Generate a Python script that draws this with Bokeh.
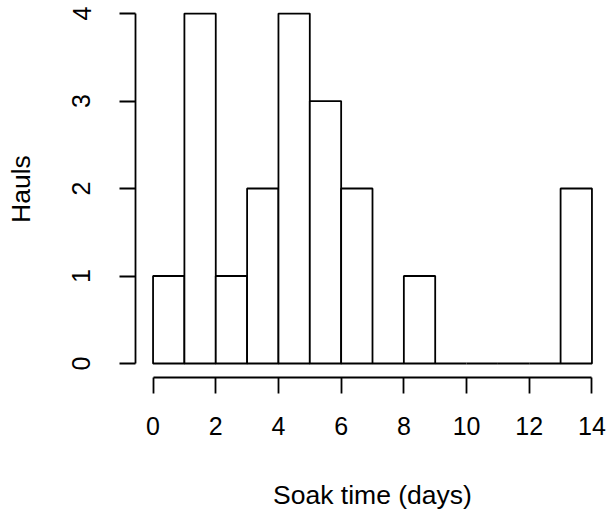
from bokeh.plotting import figure
from bokeh.models import Range1d, FixedTicker
from bokeh.embed import file_html
from bokeh.resources import INLINE

left_edges = [0, 1, 2, 3, 4, 5, 6, 7, 8, 9, 10, 11, 12, 13]
right_edges = [1, 2, 3, 4, 5, 6, 7, 8, 9, 10, 11, 12, 13, 14]
counts = [1, 4, 1, 2, 4, 3, 2, 0, 1, 0, 0, 0, 0, 2]
x_ticks = [0, 2, 4, 6, 8, 10, 12, 14]
y_ticks = [0, 1, 2, 3, 4]

FONT = "Liberation Sans"

p = figure(width=610, height=514, frame_width=474, frame_height=377,
           output_backend="svg", toolbar_location=None,
           x_range=Range1d(-0.56, 14.56), y_range=Range1d(-0.16, 4.149),
           min_border_left=135, min_border_right=1, min_border_top=0, min_border_bottom=137)
p.outline_line_color = None
p.xgrid.visible = False
p.ygrid.visible = False
p.background_fill_color = "white"
p.border_fill_color = "white"

p.quad(left=left_edges, right=right_edges, bottom=0, top=counts,
       fill_color="white", line_color="black", line_width=1.8)

for ax, ticks, hi in ((p.xaxis[0], x_ticks, 14), (p.yaxis[0], y_ticks, 4)):
    ax.ticker = FixedTicker(ticks=ticks)
    ax.bounds = (0, hi)
    ax.axis_line_width = 1.8
    ax.major_tick_line_width = 1.8
    ax.major_tick_in = 0
    ax.major_tick_out = 16
    ax.minor_tick_line_color = None
    ax.major_label_text_font = FONT
    ax.major_label_text_font_size = "25px"
    ax.major_label_text_color = "black"
    ax.axis_label_text_font = FONT
    ax.axis_label_text_font_size = "26.5px"
    ax.axis_label_text_font_style = "normal"
    ax.axis_label_text_color = "black"

p.xaxis.axis_label = "Soak time (days)"
p.yaxis.axis_label = "Hauls"
p.yaxis.major_label_orientation = "parallel"
p.xaxis.major_label_standoff = 23
p.yaxis.major_label_standoff = 29
p.xaxis.axis_label_standoff = 42
p.yaxis.axis_label_standoff = 34

open("out.html", "w").write(file_html(p, INLINE))
